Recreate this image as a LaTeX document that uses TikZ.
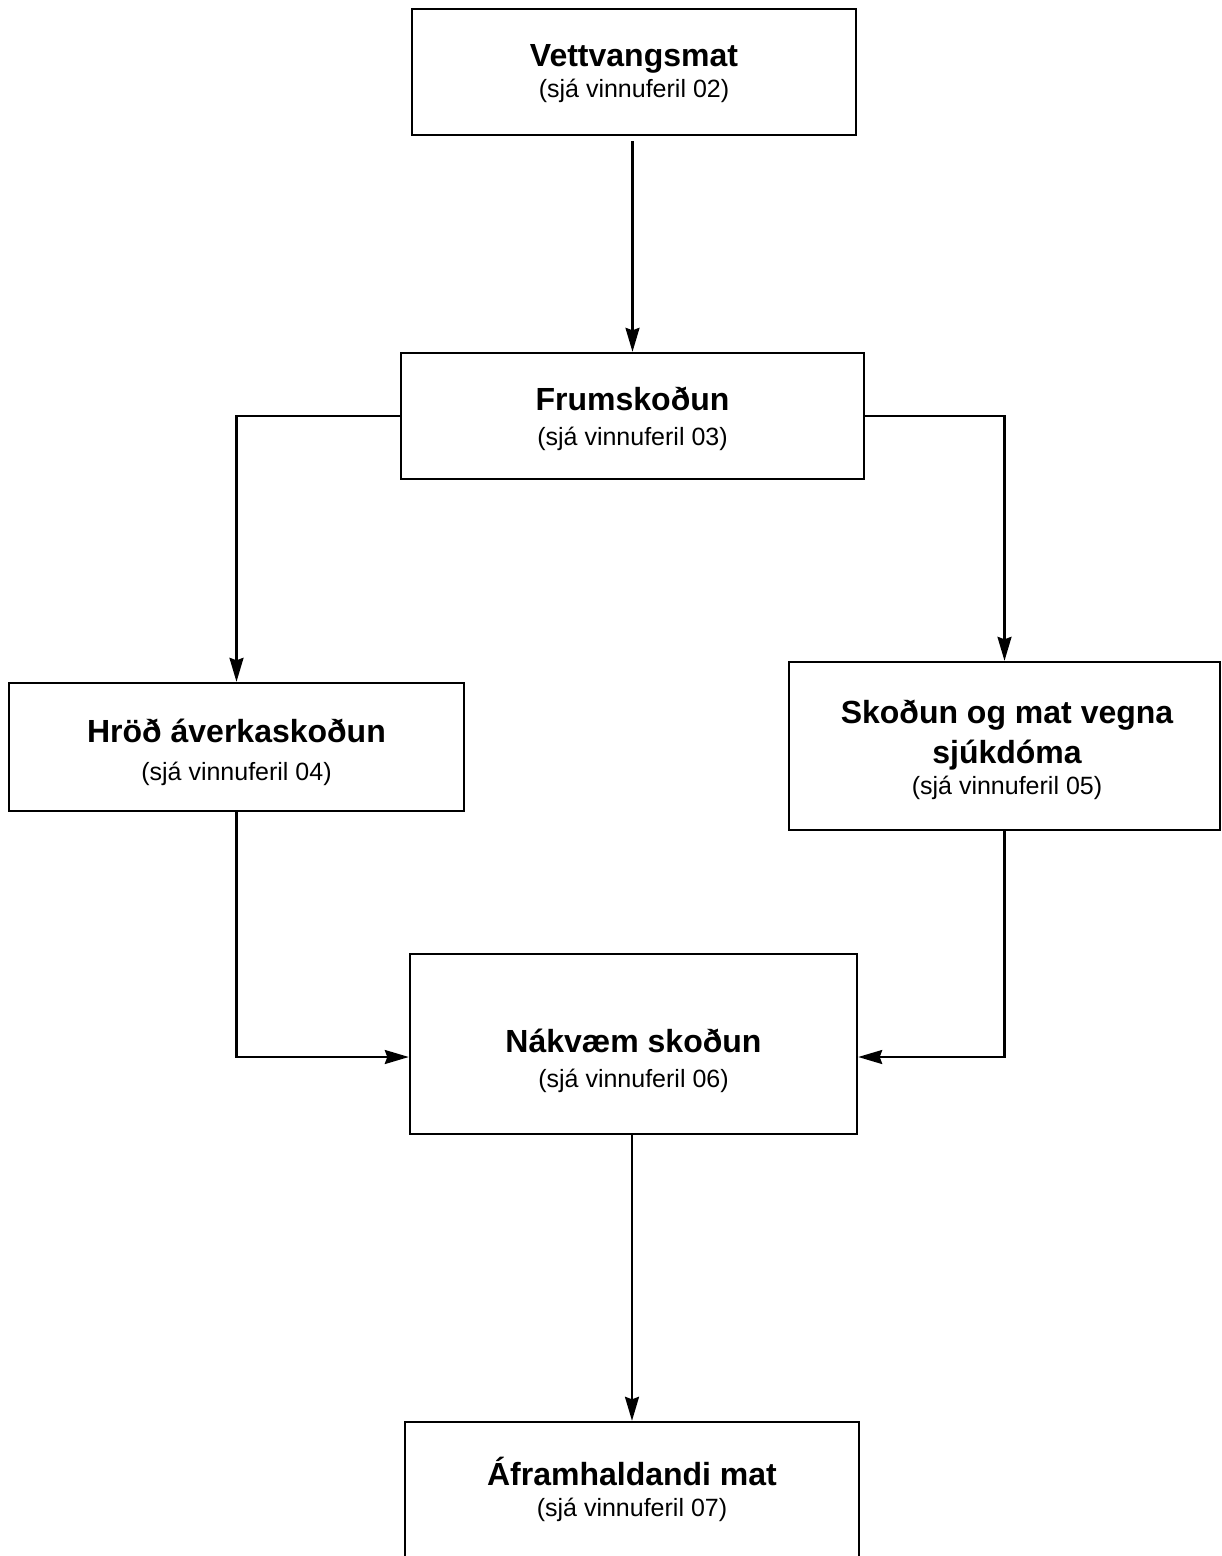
\documentclass[tikz,border=0pt]{standalone}
\usepackage{fontspec}
\setmainfont{Liberation Sans}
\usetikzlibrary{arrows.meta}

\tikzset{
  box/.style={draw, line width=2.4pt, fill=white, inner sep=0pt},
  ttl/.style={anchor=base, inner sep=0pt, font=\fontsize{32}{38}\selectfont\bfseries},
  sub/.style={anchor=base, inner sep=0pt, font=\fontsize{25}{30}\selectfont},
  arr/.style={line width=2.2pt, -{Stealth[length=24pt, width=14pt, inset=2.5pt]}}
}

\begin{document}
\begin{tikzpicture}[x=1pt, y=-1pt]
  \useasboundingbox (0,0) rectangle (1222,1556);
  \clip (0,0) rectangle (1222,1556);
  \fill[white] (0,0) rectangle (1222,1556);

  % boxes
  \node[box, minimum width=444pt, minimum height=126pt] (V) at (634,72) {};
  \node[box, minimum width=463pt, minimum height=126pt] (F) at (632.5,416) {};
  \node[box, minimum width=455pt, minimum height=128pt] (H) at (236.5,747) {};
  \node[box, minimum width=431pt, minimum height=168pt] (S) at (1004.5,746) {};
  \node[box, minimum width=447pt, minimum height=180pt] (N) at (633.5,1044) {};
  \node[box, minimum width=454pt, minimum height=200pt] (A) at (632,1522) {};

  % texts
  \node[ttl] (Vt) at (634,66) {Vettvangsmat};
  \node[sub] (Vs) at (634,97) {(sjá vinnuferil 02)};
  \node[ttl] (Ft) at (632.5,410) {Frumskoðun};
  \node[sub] (Fs) at (632.5,445) {(sjá vinnuferil 03)};
  \node[ttl] (Ht) at (236.5,742) {Hröð áverkaskoðun};
  \node[sub] (Hs) at (236.5,780) {(sjá vinnuferil 04)};
  \node[ttl] (St1) at (1007,723) {Skoðun og mat vegna};
  \node[ttl] (St2) at (1007,763) {sjúkdóma};
  \node[sub] (Ss) at (1007,794) {(sjá vinnuferil 05)};
  \node[ttl] (Nt) at (633.5,1052) {Nákvæm skoðun};
  \node[sub] (Ns) at (633.5,1087) {(sjá vinnuferil 06)};
  \node[ttl] (At) at (632,1485) {Áframhaldandi mat};
  \node[sub] (As) at (632,1516) {(sjá vinnuferil 07)};

  % connectors
  \draw[arr, shorten <=5pt] (F.north |- V.south) -- (F.north);
  \draw[arr] (F.west) -| (H.north);
  \draw[arr] (F.east) -| (S.north);
  \draw[arr] (H.south) |- ([yshift=-13pt]N.west);
  \draw[arr] (S.south) |- ([yshift=-13pt]N.east);
  \draw[arr] (A.north |- N.south) -- (A.north);
\end{tikzpicture}
\end{document}
